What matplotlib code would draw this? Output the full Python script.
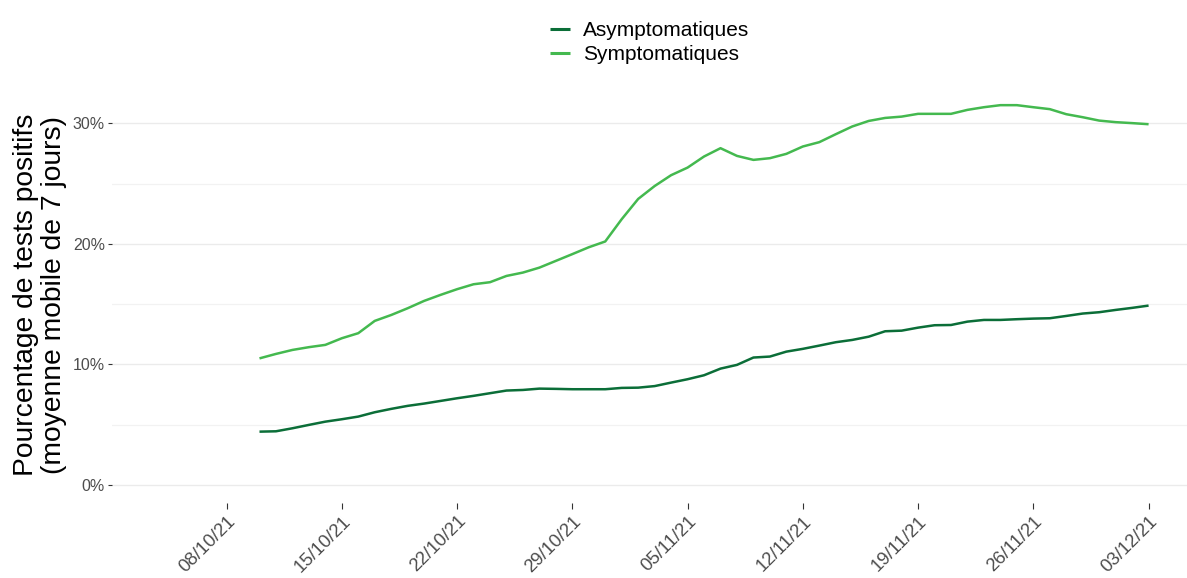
import matplotlib
matplotlib.use("Agg")
import matplotlib.pyplot as plt
import matplotlib.dates as mdates
from matplotlib.ticker import FuncFormatter, MultipleLocator
import pandas as pd

plt.rcParams['font.family'] = ['Liberation Sans', 'DejaVu Sans']

start_date = "2021-10-10"
n_days = 55
dates = pd.date_range(start_date, periods=n_days, freq="D")

asymptomatiques = [4.42, 4.45, 4.70, 4.98, 5.25, 5.45, 5.67, 6.03, 6.31, 6.56,
                   6.75, 6.97, 7.19, 7.39, 7.61, 7.83, 7.88, 7.99, 7.97, 7.94,
                   7.94, 7.94, 8.05, 8.07, 8.20, 8.49, 8.77, 9.10, 9.65, 9.96,
                   10.57, 10.65, 11.06, 11.29, 11.56, 11.84, 12.03, 12.30, 12.75, 12.80,
                   13.05, 13.25, 13.27, 13.55, 13.69, 13.69, 13.75, 13.80, 13.83, 14.02,
                   14.22, 14.33, 14.52, 14.69, 14.88]

symptomatiques = [10.50, 10.87, 11.20, 11.43, 11.62, 12.17, 12.59, 13.61, 14.10, 14.66,
                  15.27, 15.77, 16.24, 16.65, 16.82, 17.34, 17.62, 18.03, 18.59, 19.15,
                  19.72, 20.20, 22.05, 23.73, 24.80, 25.70, 26.33, 27.25, 27.94, 27.30,
                  26.97, 27.11, 27.47, 28.08, 28.44, 29.10, 29.74, 30.20, 30.45, 30.56,
                  30.79, 30.79, 30.79, 31.12, 31.34, 31.51, 31.51, 31.34, 31.18, 30.76,
                  30.51, 30.23, 30.10, 30.02, 29.93]

series_labels = ["Asymptomatiques", "Symptomatiques"]
series_colors = ["#0b6e38", "#44b94f"]
tick_dates = ["2021-10-08", "2021-10-15", "2021-10-22", "2021-10-29",
              "2021-11-05", "2021-11-12", "2021-11-19", "2021-11-26", "2021-12-03"]
y_label = "Pourcentage de tests positifs\n(moyenne mobile de 7 jours)"

fig = plt.figure(figsize=(11.87, 5.78), dpi=100)
W, H = 1187, 578
left, right, top, bottom = 112, 1187, 86, 503
ax = fig.add_axes([left / W, 1 - bottom / H, (right - left) / W, (bottom - top) / H])

for vals, lab, col in zip([asymptomatiques, symptomatiques], series_labels, series_colors):
    ax.plot(dates, vals, color=col, lw=1.8, label=lab, solid_capstyle='butt')

ax.set_ylim(-1.5, 33.1)
ax.set_xlim(pd.Timestamp("2021-10-01 01:00"), pd.Timestamp("2021-12-05 08:00"))

ax.yaxis.set_major_locator(MultipleLocator(10))
ax.yaxis.set_minor_locator(MultipleLocator(5))
ax.yaxis.set_major_formatter(FuncFormatter(lambda v, p: f"{v:.0f}%"))
ax.grid(axis='y', which='major', color='#EBEBEB', lw=1.0)
ax.grid(axis='y', which='minor', color='#F2F2F2', lw=0.9)
ax.grid(axis='x', visible=False)
ax.set_axisbelow(True)

ax.set_xticks(pd.to_datetime(tick_dates))
ax.xaxis.set_major_formatter(mdates.DateFormatter("%d/%m/%y"))
ax.xaxis.set_minor_locator(matplotlib.ticker.NullLocator())

for s in ax.spines.values():
    s.set_visible(False)

ax.tick_params(axis='y', which='major', length=3, width=0.8, color='#333333',
               labelsize=11.5, labelcolor='#4D4D4D', pad=2)
ax.tick_params(axis='y', which='minor', length=0)
ax.tick_params(axis='x', length=4, width=0.8, color='#333333',
               labelsize=13.3, labelcolor='#4D4D4D', pad=3)
for lbl in ax.get_xticklabels():
    lbl.set_rotation(45)
    lbl.set_ha('right')
    lbl.set_va('top')
    lbl.set_rotation_mode('anchor')

ax.set_ylabel(y_label, fontsize=20.3, color='black', linespacing=1.12, labelpad=4)

leg = ax.legend(loc='upper center', bbox_to_anchor=(0.5, 1 + (top - 13) / (bottom - top)),
                frameon=False, fontsize=15, handlelength=0.98, handletextpad=0.6,
                labelspacing=0.22, borderaxespad=0)
for line in leg.get_lines():
    line.set_linewidth(2.2)

fig.savefig("out.png", dpi=100)
